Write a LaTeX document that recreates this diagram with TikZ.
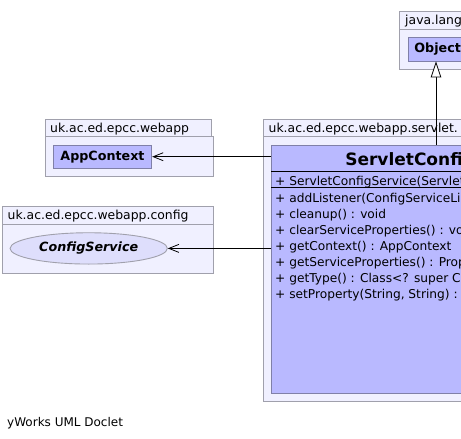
\documentclass[tikz,border=0pt]{standalone}
\usepackage{fontspec}
\setmainfont{DejaVu Sans}
\usetikzlibrary{arrows.meta,shapes.geometric}
\definecolor{pkgfill}{RGB}{240,240,255}
\definecolor{pkgline}{RGB}{160,160,172}
\definecolor{clsfill}{RGB}{185,185,255}
\definecolor{clsline}{RGB}{128,128,168}
\definecolor{elfill}{RGB}{222,222,252}
\tikzset{
  pkg/.style={draw=pkgline, fill=pkgfill, line width=0.9pt},
  pkglabel/.style={anchor=base west, inner sep=0pt, font=\fontsize{12.4}{14}\selectfont},
  clsbox/.style={draw=clsline, fill=clsfill, line width=0.9pt, inner sep=0pt,
     font=\fontsize{12.7}{14}\selectfont\bfseries},
  member/.style={anchor=base west, inner sep=0pt, font=\fontsize{12.2}{14}\selectfont},
  dep/.style={line width=0.8pt, -{Straight Barb[length=10pt,width=8pt,line width=0.8pt]}},
  inh/.style={line width=0.8pt, -{Triangle[length=16pt,width=10.5pt,open,fill=white,line width=0.8pt]}}
}
\begin{document}
\begin{tikzpicture}[x=1pt,y=-1pt]
\useasboundingbox (0,0) rectangle (461,439);
\clip (0,0) rectangle (461,439);
% java.lang package
\draw[pkg] (399.3,11.7) rectangle (640,29);
\draw[pkg] (399.3,29) rectangle (640,69.3);
\node[pkglabel] (langlbl) at (405,24.7) {java.lang};
\node[clsbox, anchor=west, minimum height=23.5pt, inner xsep=6.5pt] (obj) at (407.5,49.2) {Object};
% webapp package
\draw[pkg] (45.7,119.3) rectangle (211.7,136.7);
\draw[pkg] (45.7,136.7) rectangle (213.3,176);
\node[pkglabel] (weblbl) at (50,132.4) {uk.ac.ed.epcc.webapp};
\node[clsbox, minimum width=98.4pt, minimum height=23.3pt] (app) at (102.5,156.7) {AppContext};
% config package
\draw[pkg] (2.7,206.7) rectangle (213.3,224);
\draw[pkg] (2.7,224) rectangle (213.3,273.3);
\node[pkglabel] (cfglbl) at (7.5,219.8) {uk.ac.ed.epcc.webapp.config};
\node[ellipse, draw=pkgline, fill=elfill, line width=0.9pt, minimum width=157.3pt, minimum height=31.3pt, inner sep=0pt,
  font=\fontsize{12.7}{14}\selectfont\bfseries\itshape] (cfg) at (88.7,248.4) {ConfigService};
% servlet package
\draw[pkg] (263.3,119.3) rectangle (640,136.7);
\draw[pkg] (263.3,136.7) rectangle (640,401.3);
\node[pkglabel] (srvlbl) at (268.5,132.4) {uk.ac.ed.epcc.webapp.servlet.};
% class box
\node[draw=clsline, fill=clsfill, line width=0.9pt, anchor=north west, minimum width=349pt, minimum height=248.3pt, inner sep=0pt] (cls) at (271,145) {};
\node[anchor=base, inner sep=0pt, font=\fontsize{17}{20}\selectfont\bfseries] (clsname) at (445.5,165) {ServletConfigService};
\draw[line width=0.8pt] (cls.west |- 0,171.3) -- (cls.east |- 0,171.3);
\draw[line width=0.8pt] (cls.west |- 0,187.5) -- (cls.east |- 0,187.5);
\node[member] (m0) at (275,185) {+ ServletConfigService(ServletConfig)};
\node[member] (m1) at (275,202.5) {+ addListener(ConfigServiceListener) : void};
\node[member] (m2) at (275,218.5) {+ cleanup() : void};
\node[member] (m3) at (275,234.5) {+ clearServiceProperties() : void};
\node[member] (m4) at (275,250.5) {+ getContext() : AppContext};
\node[member] (m5) at (275,266.5) {+ getServiceProperties() : Properties};
\node[member] (m6) at (275,282.5) {+ getType() : Class<? super ConfigService>};
\node[member] (m7) at (275,298.5) {+ setProperty(String, String) : void};
% connectors
\draw[dep] (app.east -| cls.west) -- (app.east);
\draw[dep] (cls.west |- cfg.east) -- (cfg.east);
\draw[inh] (cls.north -| 436,0) -- (obj.south -| 436,0);
% footer
\node[anchor=base west, inner sep=0pt, font=\fontsize{12}{14}\selectfont] (foot) at (7,426) {yWorks UML Doclet};
\end{tikzpicture}
\end{document}
